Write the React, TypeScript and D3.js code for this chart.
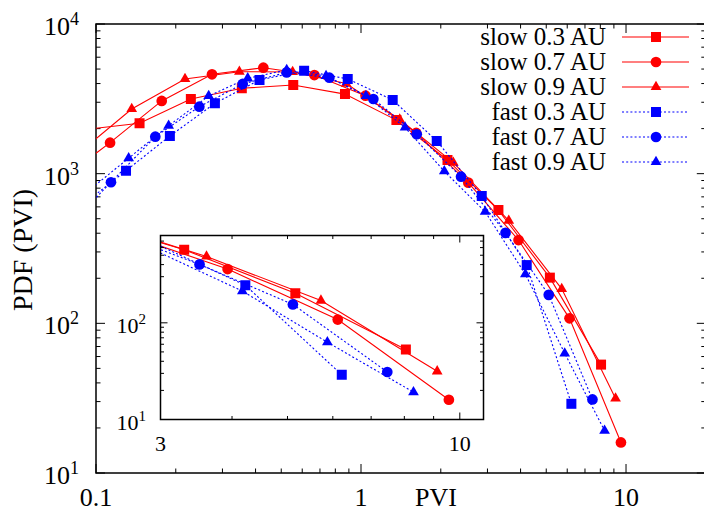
import React from 'react';
import * as d3 from 'd3';

// ---- data ----
const slow03X = [0.0935, 0.146, 0.228, 0.355, 0.555, 0.87, 1.36, 2.12, 3.3, 5.16, 8.05];
const slow03Y = [1985, 2170, 3150, 3720, 3910, 3400, 2280, 1235, 571, 202, 53];
const slow07X = [0.0725, 0.113, 0.177, 0.274, 0.428, 0.667, 1.04, 1.615, 2.54, 3.93, 6.12, 9.57];
const slow07Y = [889, 1611, 3062, 4614, 5105, 4560, 3320, 1871, 871, 360, 108, 16];
const slow09X = [0.0861, 0.1364, 0.2167, 0.3475, 0.552, 0.879, 1.4, 2.23, 3.61, 5.72, 9.13];
const slow09Y = [1375, 2704, 4296, 4800, 4780, 4000, 2300, 1185, 485, 170, 31.5];
const fast03X = [0.088, 0.1298, 0.19, 0.281, 0.414, 0.61, 0.891, 1.317, 1.931, 2.855, 4.22, 6.22];
const fast03Y = [610, 1047, 1785, 2953, 4227, 4877, 4293, 3107, 1654, 710, 245, 29];
const fast07X = [0.0778, 0.1139, 0.1674, 0.2454, 0.3578, 0.5243, 0.7596, 1.113, 1.623, 2.385, 3.51, 5.11, 7.47];
const fast07Y = [436, 876, 1767, 2803, 3975, 4750, 4378, 3155, 1834, 955, 402, 155, 31];
const fast09X = [0.0937, 0.1328, 0.188, 0.2662, 0.3737, 0.5243, 0.738, 1.044, 1.466, 2.062, 2.94, 4.17, 5.87, 8.3];
const fast09Y = [770, 1268, 2092, 3304, 4338, 4928, 4494, 3304, 2035, 1038, 557, 213, 63, 19.2];

const seriesNames = ['slow 0.3 AU', 'slow 0.7 AU', 'slow 0.9 AU', 'fast 0.3 AU', 'fast 0.7 AU', 'fast 0.9 AU'];
const seriesX = [slow03X, slow07X, slow09X, fast03X, fast07X, fast09X];
const seriesY = [slow03Y, slow07Y, slow09Y, fast03Y, fast07Y, fast09Y];
const seriesShape = ['square', 'circle', 'triangle', 'square', 'circle', 'triangle'];
const seriesKind = ['slow', 'slow', 'slow', 'fast', 'fast', 'fast'];

const mainXTicks = [0.1, 1, 10];
const mainXLabels = ['0.1', '1', '10'];
const mainYTicks = [10, 100, 1000, 10000];
const mainYExp = ['1', '2', '3', '4'];
const insetXTicks = [3, 10];
const insetXLabels = ['3', '10'];
const insetYTicks = [10, 100];
const insetYExp = ['1', '2'];

// ---- layout ----
const W = 704, H = 512;
const FONT = '"Liberation Serif", "Times New Roman", serif';
const RED = '#ff0000', BLUE = '#0000ff';

const xMain = d3.scaleLog().domain([0.1, 20]).range([96, 705.8]);
const yMain = d3.scaleLog().domain([10, 10000]).range([473, 24]);
const xIn = d3.scaleLog().domain([3, 11]).range([160.5, 483.5]);
const yIn = d3.scaleLog().domain([10, 800]).range([419.5, 235.5]);

function minorTicks(lo: number, hi: number) {
  const out: number[] = [];
  for (let e = Math.floor(Math.log10(lo)); e <= Math.ceil(Math.log10(hi)); e++) {
    for (let k = 2; k <= 9; k++) {
      const v = k * Math.pow(10, e);
      if (v > lo * 1.0001 && v < hi * 0.9999) out.push(v);
    }
  }
  return out;
}

function symbolPath(shape: string) {
  if (shape === 'square') return d3.symbol().type(d3.symbolSquare).size(100)()!;
  if (shape === 'circle') return d3.symbol().type(d3.symbolCircle).size(90)()!;
  return d3.symbol().type(d3.symbolTriangle).size(50)()!;
}

function Frame({ xs, ys, major, minor, xMaj, yMaj }: any) {
  const [x0, x1] = xs.range();
  const [y0, y1] = ys.range();
  const xd = xs.domain(), yd = ys.domain();
  const lines: any[] = [];
  const xmin = minorTicks(xd[0], xd[1]);
  const ymin = minorTicks(yd[0], yd[1]);
  xMaj.forEach((v: number, i: number) => {
    const x = xs(v);
    lines.push(<line key={'xM' + i} x1={x} x2={x} y1={y0} y2={y0 - major} />);
    lines.push(<line key={'xMt' + i} x1={x} x2={x} y1={y1} y2={y1 + major} />);
  });
  xmin.forEach((v: number, i: number) => {
    const x = xs(v);
    lines.push(<line key={'xm' + i} x1={x} x2={x} y1={y0} y2={y0 - minor} />);
    lines.push(<line key={'xmt' + i} x1={x} x2={x} y1={y1} y2={y1 + minor} />);
  });
  yMaj.forEach((v: number, i: number) => {
    const y = ys(v);
    lines.push(<line key={'yM' + i} x1={x0} x2={x0 + major} y1={y} y2={y} />);
    lines.push(<line key={'yMr' + i} x1={x1} x2={x1 - major} y1={y} y2={y} />);
  });
  ymin.forEach((v: number, i: number) => {
    const y = ys(v);
    lines.push(<line key={'ym' + i} x1={x0} x2={x0 + minor} y1={y} y2={y} />);
    lines.push(<line key={'ymr' + i} x1={x1} x2={x1 - minor} y1={y} y2={y} />);
  });
  return (
    <g stroke="#000" strokeWidth={1}>
      {lines}
      <rect x={x0} y={y1} width={x1 - x0} height={y0 - y1} fill="none" strokeWidth={1.5} />
    </g>
  );
}

function Series({ xs, ys, clip }: any) {
  return (
    <g clipPath={`url(#${clip})`}>
      {seriesNames.map((name, si) => {
        const pts = seriesX[si].map((x, i) => [xs(x), ys(seriesY[si][i])] as [number, number]);
        const color = seriesKind[si] === 'slow' ? RED : BLUE;
        const dash = seriesKind[si] === 'slow' ? undefined : '2,2.2';
        const sym = symbolPath(seriesShape[si]);
        return (
          <g key={name}>
            <path d={d3.line()(pts)!} fill="none" stroke={color} strokeWidth={1.1} strokeDasharray={dash} />
            {pts.map((p, i) => (
              <path key={i} d={sym} transform={`translate(${p[0]},${p[1]})`} fill={color} />
            ))}
          </g>
        );
      })}
    </g>
  );
}

export default function App() {
  const [mx0, mx1] = xMain.range();
  const [my0, my1] = yMain.range();
  const [ix0, ix1] = xIn.range();
  const [iy0, iy1] = yIn.range();
  const legendY0 = 37, legendDy = 25;
  return (
    <svg width={W} height={H} style={{ position: 'absolute', left: 0, top: 0, background: '#fff' }}
      fontFamily={FONT}>
      <defs>
        <clipPath id="clipMain"><rect x={mx0} y={my1} width={mx1 - mx0} height={my0 - my1} /></clipPath>
        <clipPath id="clipIn"><rect x={ix0} y={iy1} width={ix1 - ix0} height={iy0 - iy1} /></clipPath>
      </defs>
      <rect x={0} y={0} width={W} height={H} fill="#fff" />

      <Frame xs={xMain} ys={yMain} major={9} minor={4.5} xMaj={mainXTicks} yMaj={mainYTicks} />
      <Series xs={xMain} ys={yMain} clip="clipMain" />

      {mainXTicks.map((v, i) => (
        <text key={'mxl' + i} x={xMain(v)} y={506} fontSize={26} textAnchor="middle">{mainXLabels[i]}</text>
      ))}
      {mainYTicks.map((v, i) => (
        <text key={'myl' + i} x={79} y={yMain(v) + 11} fontSize={26} textAnchor="end">
          <tspan>10</tspan>
          <tspan dy={-10} fontSize={18}>{mainYExp[i]}</tspan>
        </text>
      ))}
      <text x={436} y={506} fontSize={26} textAnchor="middle">PVI</text>
      <text transform="translate(32,250) rotate(-90)" fontSize={28} textAnchor="middle">PDF (PVI)</text>

      {seriesNames.map((name, si) => {
        const y = legendY0 + si * legendDy;
        const color = seriesKind[si] === 'slow' ? RED : BLUE;
        const dash = seriesKind[si] === 'slow' ? undefined : '2,2.2';
        return (
          <g key={'lg' + si}>
            <text x={606} y={y + 8} fontSize={25} textAnchor="end">{name}</text>
            <line x1={622} x2={689} y1={y} y2={y} stroke={color} strokeWidth={1.1} strokeDasharray={dash} />
            <path d={symbolPath(seriesShape[si])} transform={`translate(656,${y})`} fill={color} />
          </g>
        );
      })}

      <rect x={ix0} y={iy1} width={ix1 - ix0} height={iy0 - iy1} fill="#fff" />
      <Series xs={xIn} ys={yIn} clip="clipIn" />
      <Frame xs={xIn} ys={yIn} major={7} minor={3.5} xMaj={insetXTicks} yMaj={insetYTicks} />
      {insetXTicks.map((v, i) => (
        <text key={'ixl' + i} x={xIn(v)} y={451} fontSize={22} textAnchor="middle">{insetXLabels[i]}</text>
      ))}
      {insetYTicks.map((v, i) => (
        <text key={'iyl' + i} x={146} y={yIn(v) + 10} fontSize={22} textAnchor="end">
          <tspan>10</tspan>
          <tspan dy={-9} fontSize={15}>{insetYExp[i]}</tspan>
        </text>
      ))}
    </svg>
  );
}
